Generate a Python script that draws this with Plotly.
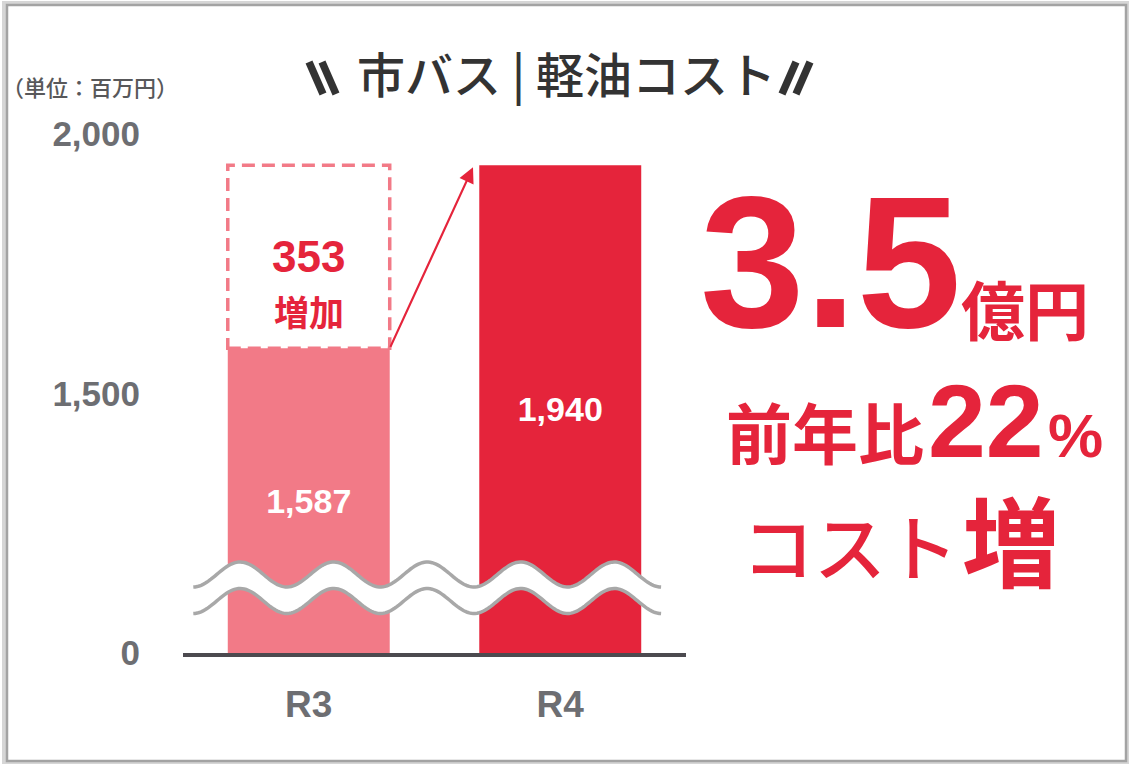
import numpy as np
import plotly.graph_objects as go

# ---------------- data ----------------
categories = ["R3", "R4"]
costs = [1587, 1940]                      # 軽油コスト（百万円）
y_tick_values = [0, 1500, 2000]
y_tick_labels = ["0", "1,500", "2,000"]
title_text = "市バス | 軽油コスト"
unit_text = "（単位：百万円）"
increase_label = "増加"
headline_amount = "3.5"
headline_unit = "億円"
yoy_prefix = "前年比"
yoy_value = "22"
yoy_suffix = "%"
cost_text = "コスト"
cost_up = "増"

# ---------------- styling / layout constants ----------------
W, H = 1129, 764
ML, MR, MT, MB = 183, 443, 100, 111
PW, PH = W - ML - MR, H - MT - MB
BREAK = 1000            # axis break: values 0..BREAK are compressed
PX_PER_UNIT = 0.519
Y_TOP = BREAK + PH / PX_PER_UNIT
BAR_W = 0.644

RED = "#e5243b"
PINK = "#f27a87"
GRAY_TXT = "#6d6e72"
DARK = "#333333"
WAVE = "#a8a8a8"
JP = "Noto Sans CJK JP"
NUM = "Liberation Sans, Arial, sans-serif"


def px(x):
    return (x - ML) / PW


def py(y):
    return (H - MB - y) / PH


x_pos = list(range(len(categories)))
tickvals_y = [BREAK if v == 0 else v for v in y_tick_values]

fig = go.Figure()
fig.add_trace(go.Bar(
    x=x_pos,
    y=[v - BREAK for v in costs],
    base=BREAK,
    width=BAR_W,
    marker=dict(color=[PINK, RED], line=dict(width=0)),
    text=[f"{v:,}" for v in costs],
    textposition="inside",
    insidetextanchor="middle",
    textangle=0,
    textfont=dict(family=NUM, size=34, color="white", weight="bold"),
    hoverinfo="skip",
))

shapes = []
# dashed box showing the increase
shapes.append(dict(type="rect", xref="x", yref="y",
                   x0=x_pos[0] - BAR_W / 2, x1=x_pos[0] + BAR_W / 2,
                   y0=costs[0], y1=costs[1],
                   line=dict(color=PINK, width=3.5, dash="13px,7px"),
                   fillcolor="rgba(0,0,0,0)", layer="above"))

# axis-break wave (decoration)
period = 0.372
x_peak = -0.273
xs = np.linspace(x_peak - period / 2, x_peak + 4.5 * period, 240)
amp = 12.5 / PX_PER_UNIT
mid_top = BREAK + (H - MB - 574.5) / PX_PER_UNIT
mid_bot = BREAK + (H - MB - 601.0) / PX_PER_UNIT
top = mid_top + amp * np.cos(2 * np.pi * (xs - x_peak) / period)
bot = mid_bot + amp * np.cos(2 * np.pi * (xs - x_peak) / period)


def path_of(xv, yv):
    return "M " + " L ".join(f"{a:.4f},{b:.3f}" for a, b in zip(xv, yv))


band = path_of(xs, top) + " L " + " L ".join(
    f"{a:.4f},{b:.3f}" for a, b in zip(xs[::-1], bot[::-1])) + " Z"
shapes.append(dict(type="path", xref="x", yref="y", path=band,
                   fillcolor="white", line=dict(width=0), layer="above"))
for yy in (top, bot):
    shapes.append(dict(type="path", xref="x", yref="y", path=path_of(xs, yy),
                       line=dict(color=WAVE, width=3.5), layer="above"))

# title slashes (decoration)
for (x0, y0, x1, y1) in [(309, 62, 323, 94), (322, 62, 336, 94),
                         (796, 62, 782, 94), (810, 62, 796, 94)]:
    shapes.append(dict(type="line", xref="paper", yref="paper",
                       x0=px(x0), y0=py(y0), x1=px(x1), y1=py(y1),
                       line=dict(color=DARK, width=7.5)))

# outer frame
shapes.append(dict(type="rect", xref="paper", yref="paper",
                   x0=px(4), x1=px(1128), y0=py(763), y1=py(3),
                   line=dict(color="#d6d6d6", width=4)))
shapes.append(dict(type="rect", xref="paper", yref="paper",
                   x0=px(7), x1=px(1126), y0=py(761), y1=py(5),
                   line=dict(color="#a3a3a3", width=2.5)))

annotations = []
# arrow from R3 top to R4 top
annotations.append(dict(x=x_pos[1] - BAR_W / 2 - 0.025, y=costs[1] - 4,
                        ax=x_pos[0] + BAR_W / 2, ay=costs[0],
                        xref="x", yref="y", axref="x", ayref="y",
                        text="", showarrow=True, arrowhead=2, arrowsize=1.4,
                        arrowwidth=2.2, arrowcolor=RED, standoff=0, startstandoff=0))
mid_box = (costs[0] + costs[1]) / 2
annotations.append(dict(x=x_pos[0], y=mid_box, xref="x", yref="y",
                        xanchor="center", yanchor="middle",
                        text=f"{costs[1] - costs[0]}", showarrow=False,
                        font=dict(family=NUM, size=44, color=RED, weight="bold")))
annotations.append(dict(x=x_pos[0], y=mid_box - 104, xref="x", yref="y",
                        xanchor="center", yanchor="middle",
                        text=increase_label, showarrow=False,
                        font=dict(family=JP, size=35, color=RED, weight="bold")))

# title & unit label
annotations.append(dict(x=px(566), y=py(72), xref="paper", yref="paper",
                        xanchor="center", yanchor="middle",
                        text=title_text, showarrow=False,
                        font=dict(family=JP, size=48, color=DARK, weight=500)))
annotations.append(dict(x=px(0), y=py(86), xref="paper", yref="paper",
                        xanchor="left", yanchor="middle", text=unit_text, showarrow=False,
                        font=dict(family=JP, size=22, color="#58585a", weight=500)))


# right-hand headline texts
def big(text, cx, cy, size, family, weight="bold"):
    annotations.append(dict(x=px(cx), y=py(cy), xref="paper", yref="paper",
                            xanchor="center", yanchor="middle",
                            text=text, showarrow=False,
                            font=dict(family=family, size=size, color=RED, weight=weight)))


big(headline_amount, 830, 262, 188, NUM)
big(headline_unit, 1025, 307, 64, JP)
big(yoy_prefix, 825, 430, 66, JP)
big(yoy_value, 986, 421, 104, NUM)
big(yoy_suffix, 1075, 435, 62, NUM)
big(cost_text, 850, 543, 72, JP, weight=500)
big(cost_up, 1011, 537, 98, JP)

fig.update_layout(
    width=W, height=H,
    margin=dict(l=ML, r=MR, t=MT, b=MB, pad=0),
    paper_bgcolor="white", plot_bgcolor="white",
    showlegend=False,
    shapes=shapes,
    annotations=annotations,
    xaxis=dict(range=[-0.5, 1.5], tickvals=x_pos, ticktext=categories,
               showgrid=False, zeroline=False, showline=True,
               linecolor="#4c4a4f", linewidth=4, ticks="",
               ticklabelstandoff=16,
               tickfont=dict(family=NUM, size=37, color=GRAY_TXT, weight="bold"),
               fixedrange=True),
    yaxis=dict(range=[BREAK, Y_TOP], tickvals=tickvals_y, ticktext=y_tick_labels,
               showgrid=False, zeroline=False, showline=False, ticks="",
               ticklabelstandoff=42,
               tickfont=dict(family=NUM, size=35, color=GRAY_TXT, weight="bold"),
               fixedrange=True),
)

fig.write_html("out.html")
